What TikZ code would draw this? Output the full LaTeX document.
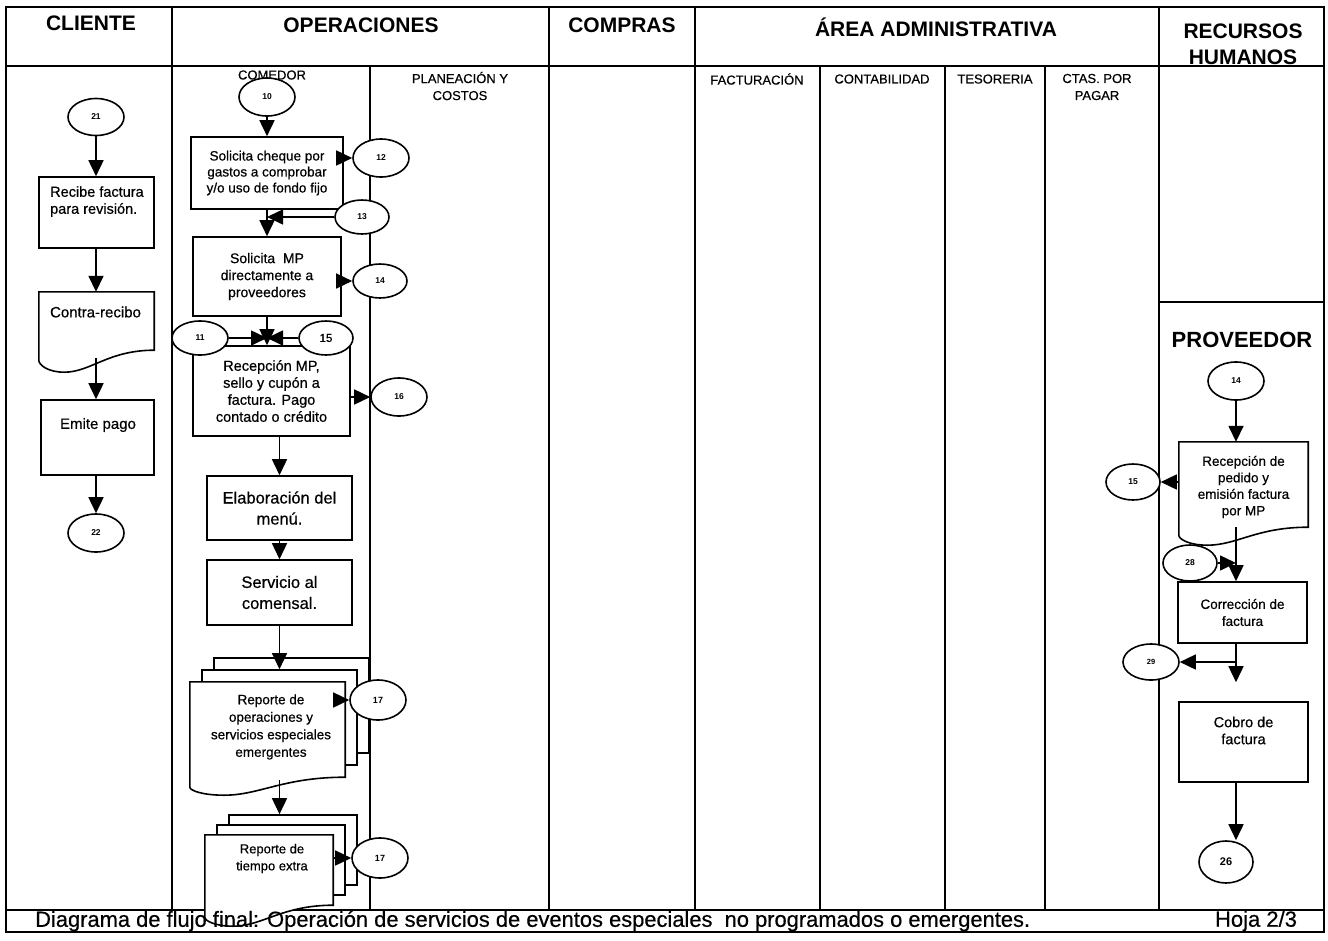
\documentclass[tikz,border=0pt]{standalone}
\usepackage{fontspec}
\setmainfont{Liberation Sans}[UprightFeatures={FakeBold=0.5}]
\usetikzlibrary{arrows.meta,shapes.geometric,calc}

\tikzset{
  lane/.style={line width=2pt},
  shapeline/.style={line width=1.6pt},
  box/.style={draw, shapeline, fill=white, rectangle, inner sep=0pt, align=center},
  area/.style={rectangle, inner sep=0pt},
  conn/.style={draw, shapeline, fill=white, ellipse, inner sep=0pt,
    font=\bfseries\fontsize{8.5}{9}\selectfont},
  arr/.style={shapeline, -{Triangle[length=16pt,width=15pt]}},
  head/.style={font=\bfseries\fontsize{21}{21}\selectfont},
  sub/.style={font=\fontsize{13}{17}\selectfont, align=center},
  txt/.style={inner sep=0pt, align=center},
}

% document shape with a wavy lower edge, drawn on the anchors of an area node
% #1 node, #2 drop of the left end below the right end, #3 depth of the wave
\newcommand{\docshape}[3]{%
  \draw[shapeline, fill=white] (#1.north west) -- (#1.north east) -- (#1.south east)
    .. controls ($(#1.south west)!0.6!(#1.south east)$) and ($(#1.south west)!0.45!(#1.south east)+(0,#2+#3)$)
    .. ($(#1.south west)!0.22!(#1.south east)+(0,#2+#3)$)
    .. controls ($(#1.south west)!0.08!(#1.south east)+(0,#2+#3)$) and ($(#1.south west)+(0,#2+0.4*#3)$)
    .. ($(#1.south west)+(0,#2)$) -- cycle;}

\begin{document}
\begin{tikzpicture}[x=1pt,y=-1pt]
\useasboundingbox (0,0) rectangle (1328,940);

% ---------- swimlane frame ----------
\draw[lane] (6,7) rectangle (1324,932);
\draw[lane] (6,66) -- (1324,66);
\draw[lane] (6,910) -- (1324,910);
\foreach \lx in {172,549,695,1159} \draw[lane] (\lx,7) -- (\lx,910);
\foreach \lx in {370,820,945,1045} \draw[lane] (\lx,66) -- (\lx,910);
\draw[lane] (1159,302) -- (1324,302);

% ---------- lane titles ----------
\node[head] (hCli) at (91,23) {CLIENTE};
\node[head] (hOpe) at (361,25) {OPERACIONES};
\node[head] (hCom) at (622,25) {COMPRAS};
\node[head] (hAre) at (936,27) {ÁREA ADMINISTRATIVA};
\node[head, align=center, font=\bfseries\fontsize{21}{26}\selectfont] (hRH) at (1243,44) {RECURSOS\\HUMANOS};
\node[head, font=\bfseries\fontsize{22}{22}\selectfont] (hPro) at (1242,340) {PROVEEDOR};

\node[sub] (sCom) at (272,75) {COMEDOR};
\node[sub] (sPla) at (460,86) {PLANEACIÓN Y\\COSTOS};
\node[sub] (sFac) at (757,79) {FACTURACIÓN};
\node[sub] (sCon) at (882,79) {CONTABILIDAD};
\node[sub] (sTes) at (995,79) {TESORERIA};
\node[sub] (sCta) at (1097,87) {CTAS. POR\\PAGAR};

% ---------- CLIENTE ----------
\node[conn, minimum width=56, minimum height=37] (c21) at (96,117) {21};
\node[box, minimum width=115, minimum height=71] (recibe) at (96.5,212.5) {};
\node[txt, anchor=west, align=left, font=\fontsize{14.5}{17}\selectfont] (tRecibe) at (50,201.5) {Recibe factura\\para revisión.};
\node[area, minimum width=115, minimum height=58] (contra) at (96.5,321) {};
\docshape{contra}{10}{12}
\node[txt, font=\fontsize{15}{17}\selectfont] (tContra) at (95.5,312) {Contra-recibo};
\node[box, minimum width=113, minimum height=75] (emite) at (97.5,437.5) {};
\node[txt, font=\fontsize{15}{17}\selectfont] (tEmite) at (98,425) {Emite pago};
\node[conn, minimum width=56, minimum height=38] (c22) at (96,533) {22};

\draw[arr] (c21.south) -- (c21.south |- recibe.north);
\draw[arr] (c21.south |- recibe.south) -- (c21.south |- contra.north);
\draw[arr] ($(c21.south |- contra.south)+(0,8)$) -- (c21.south |- emite.north);
\draw[arr] (c21.south |- emite.south) -- (c21.south |- c22.north);

% ---------- OPERACIONES / COMEDOR ----------
\node[conn, minimum width=56, minimum height=38] (c10) at (267,97) {10};
\node[box, minimum width=152, minimum height=72, font=\fontsize{13.5}{16}\selectfont] (sol1) at (267,173)
  {Solicita cheque por\\gastos a comprobar\\y/o uso de fondo fijo};
\node[conn, minimum width=56, minimum height=38] (c12) at (381,158) {12};
\node[conn, minimum width=54, minimum height=34] (c13) at (362,217) {13};
\node[box, minimum width=148, minimum height=79, font=\fontsize{14}{17}\selectfont] (sol2) at (267,276.5)
  {Solicita~~MP\\directamente a\\proveedores};
\node[conn, minimum width=54, minimum height=34] (c14) at (380,281) {14};
\node[box, minimum width=157, minimum height=90, font=\fontsize{14.5}{17}\selectfont] (sol3) at (271.5,391)
  {Recepción MP,\\sello y cupón a\\factura. Pago\\contado o crédito};
\node[conn, minimum width=56, minimum height=34] (c11) at (200,338) {11};
\node[conn, minimum width=54, minimum height=34, font=\fontsize{11.5}{12}\selectfont] (c15) at (326,338) {15};
\node[conn, minimum width=56, minimum height=38] (c16) at (399,397) {16};
\node[box, minimum width=145, minimum height=64, font=\fontsize{16.5}{21}\selectfont] (elab) at (279.5,508)
  {Elaboración del\\menú.};
\node[box, minimum width=145, minimum height=65, font=\fontsize{16.5}{21}\selectfont] (serv) at (279.5,592.5)
  {Servicio al\\comensal.};

\draw[arr] (c10.south) -- (c10.south |- sol1.north);
\draw[arr] (sol1.east |- c12.west) -- (c12.west);
\draw[arr] (c13.west) -- (c13.west -| sol1.south);
\draw[arr] (sol1.south) -- (sol2.north);
\draw[arr] (sol2.east |- c14.west) -- (c14.west);
\draw[arr] (sol2.south) -- (sol2.south |- sol3.north);
\draw[arr] (c11.east) -- (c11.east -| sol2.south);
\draw[arr] (c15.west) -- (c15.west -| sol2.south);
\draw[arr] (sol3.east |- c16.west) -- (c16.west);
\draw[arr] (elab.north |- sol3.south) -- (elab.north);
\draw[arr] (elab.south) -- (serv.north);

% operations report (stacked documents)
\node[box, minimum width=155, minimum height=95] (rep1c) at (291.5,705.5) {};
\node[box, minimum width=155, minimum height=95] (rep1b) at (279.5,717.5) {};
\node[area, minimum width=155, minimum height=95] (rep1) at (267.5,729.5) {};
\docshape{rep1}{10}{8}
\node[txt, font=\fontsize{13.5}{17.5}\selectfont] (tRep1) at (271,727)
  {Reporte de\\operaciones y\\servicios especiales\\emergentes};
\node[conn, minimum width=56, minimum height=40, font=\bfseries\fontsize{9}{9}\selectfont] (c17a) at (378,700) {17};
\draw[arr] (serv.south) -- (serv.south |- rep1b.north);
\draw[arr] (rep1.east |- c17a.west) -- (c17a.west);

% overtime report (stacked documents), reaching into the caption row
\node[box, minimum width=128, minimum height=70] (rep2c) at (293,850) {};
\node[box, minimum width=128, minimum height=70] (rep2b) at (281,860) {};
\draw[arr] ($(serv.south |- rep1.south)+(0,3)$) -- (serv.south |- rep2c.north);
\node[area, minimum width=128, minimum height=70] (rep2) at (269,870) {};
\docshape{rep2}{12}{9}
\node[txt, font=\fontsize{13}{17}\selectfont] (tRep2) at (272,858.5) {Reporte de\\tiempo extra};
\node[conn, minimum width=56, minimum height=40, font=\bfseries\fontsize{9}{9}\selectfont] (c17b) at (380,858) {17};
\draw[arr] (rep2.east |- c17b.west) -- (c17b.west);

% ---------- PROVEEDOR ----------
\node[conn, minimum width=56, minimum height=38] (p14) at (1236,381) {14};
\node[area, minimum width=129, minimum height=85] (pdoc) at (1243.5,484.5) {};
\docshape{pdoc}{8}{10}
\node[txt, font=\fontsize{13.5}{16.5}\selectfont] (tPdoc) at (1243.5,487)
  {Recepción de\\pedido y\\emisión factura\\por MP};
\node[conn, minimum width=54, minimum height=36] (p15) at (1133,482) {15};
\node[conn, minimum width=54, minimum height=36] (p28) at (1190,563) {28};
\node[box, minimum width=129, minimum height=61, font=\fontsize{13.5}{17}\selectfont] (corr) at (1242.5,612.5)
  {Corrección de\\factura};
\node[conn, minimum width=56, minimum height=36, font=\bfseries\fontsize{7.5}{8}\selectfont] (p29) at (1151,662) {29};
\node[box, minimum width=129, minimum height=80] (cobro) at (1243.5,742) {};
\node[txt, font=\fontsize{14.5}{17}\selectfont] (tCobro) at (1243.5,730.5) {Cobro de\\factura};
\node[conn, minimum width=54, minimum height=42, font=\bfseries\fontsize{11}{12}\selectfont] (p26) at (1226,862) {26};

\draw[arr] (p14.south) -- (p14.south |- pdoc.north);
\draw[arr] (pdoc.west |- p15.east) -- (p15.east);
\draw[arr] (p14.south |- pdoc.south) -- (p14.south |- corr.north);
\draw[arr] (p28.east) -- (p28.east -| p14.south);
\draw[arr, shorten >=19pt] (p14.south |- corr.south) -- (p14.south |- cobro.north);
\draw[arr] (p14.south |- p29.east) -- (p29.east);
\draw[arr] (p14.south |- cobro.south) -- (p14.south |- p26.north);

% ---------- caption row ----------
\node[anchor=west, inner sep=0pt] (cap) at (35,921)
  {\resizebox{995pt}{!}{\fontsize{22}{22}\selectfont Diagrama de flujo final: Operación de servicios de eventos especiales\ \ no programados o emergentes.}};
\node[inner sep=0pt] (hoja) at (1256,921) {\resizebox{82pt}{!}{\fontsize{22}{22}\selectfont Hoja 2/3}};
\end{tikzpicture}
\end{document}
